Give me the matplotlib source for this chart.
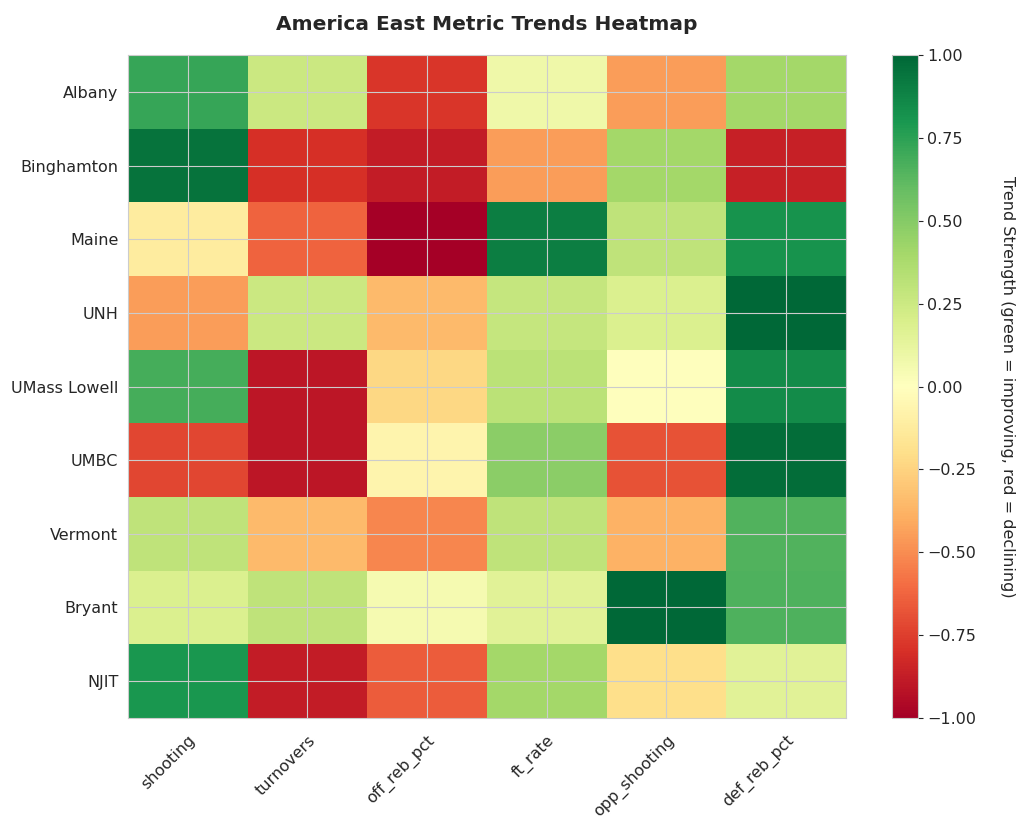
import matplotlib
matplotlib.use("Agg")
import matplotlib.pyplot as plt  # noqa: E402
import numpy as np  # noqa: E402
import seaborn as sns  # noqa: E402

teams = ["Albany", "Binghamton", "Maine", "UNH", "UMass Lowell", "UMBC", "Vermont", "Bryant", "NJIT"]
metrics = ["shooting", "turnovers", "off_reb_pct", "ft_rate", "opp_shooting", "def_reb_pct"]

# trend strength per team, columns follow `metrics`
albany = [0.72, 0.25, -0.78, 0.08, -0.45, 0.40]
binghamton = [0.95, -0.80, -0.88, -0.45, 0.40, -0.86]
maine = [-0.12, -0.63, -1.00, 0.90, 0.30, 0.82]
unh = [-0.45, 0.25, -0.35, 0.28, 0.18, 1.00]
umass_lowell = [0.68, -0.90, -0.23, 0.32, 0.00, 0.85]
umbc = [-0.72, -0.90, -0.07, 0.48, -0.68, 0.97]
vermont = [0.30, -0.35, -0.52, 0.30, -0.38, 0.65]
bryant = [0.18, 0.30, 0.05, 0.15, 1.00, 0.66]
njit = [0.80, -0.88, -0.65, 0.40, -0.20, 0.15]

values = np.array([albany, binghamton, maine, unh, umass_lowell, umbc, vermont, bryant, njit])

sns.set_style("whitegrid")

fig = plt.figure(figsize=(10.24, 8.26), dpi=100)
ax = fig.add_axes([0.125, 0.131, 0.701, 0.802])
cax = fig.add_axes([0.871, 0.131, 0.025, 0.802])

im = ax.imshow(values, cmap="RdYlGn", vmin=-1, vmax=1, aspect="auto")
ax.set_xticks(range(len(metrics)))
ax.set_xticklabels(metrics, rotation=45, ha="right", rotation_mode="anchor", fontsize=11.5)
ax.tick_params(axis="x", pad=7)
ax.set_yticks(range(len(teams)))
ax.set_yticklabels(teams, fontsize=11.5)
for s in ax.spines.values():
    s.set_edgecolor("#cccccc")
ax.set_title("America East Metric Trends Heatmap", fontsize=14.5, fontweight="bold", pad=18)

cb = fig.colorbar(im, cax=cax)
cb.set_label("Trend Strength (green = improving, red = declining)", rotation=270, labelpad=28, fontsize=11.5)
cb.ax.tick_params(labelsize=11.5)
cb.outline.set_edgecolor("#cccccc")

fig.savefig("out.png", dpi=100)
